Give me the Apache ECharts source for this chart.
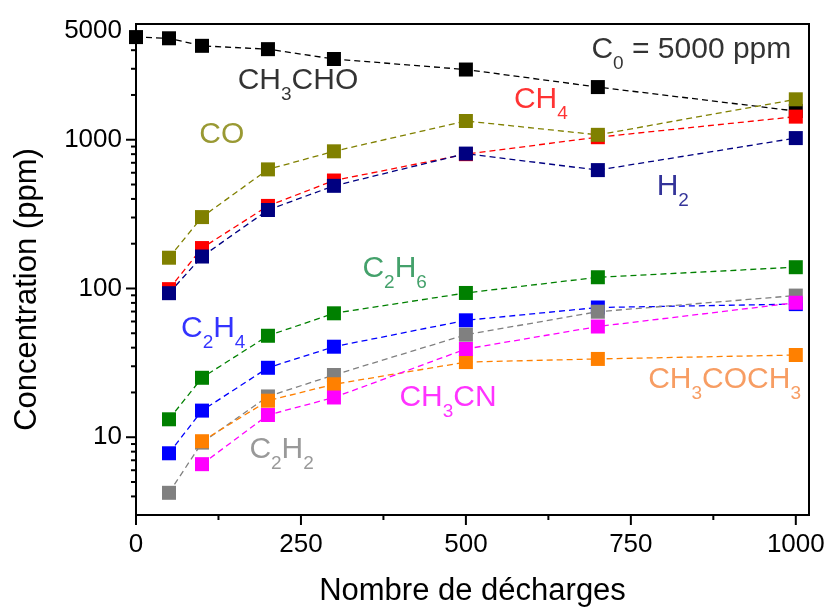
<!DOCTYPE html>
<html>
<head>
<meta charset="utf-8">
<script src="https://cdn.jsdelivr.net/npm/echarts@6/dist/echarts.min.js"></script>
<style>
  html, body { margin: 0; padding: 0; background: #fff; }
  #chart { width: 829px; height: 612px; }
</style>
</head>
<body>
<div id="chart"></div>
<script>
// number of discharges
var decharges = [0, 50, 100, 200, 300, 500, 700, 1000];

// concentrations (ppm), null = not measured
var ch3choData   = [4900, 4810, 4280, 4065, 3490, 2965, 2260, 1560];
var ch4Data      = [null, 99, 187, 359, 532, 800, 1040, 1430];
var h2Data       = [null, 93, 164, 337, 490, 807, 625, 1026];
var coData       = [null, 161, 302, 632, 836, 1337, 1079, 1870];
var c2h6Data     = [null, 13.2, 25.1, 48.1, 68.1, 93.3, 119, 139];
var c2h4Data     = [null, 7.8, 15.1, 29.3, 40.6, 61.1, 74.5, 78.5];
var c2h2Data     = [null, 4.23, 9.2, 18.8, 26.2, 48.9, 69.8, 89.6];
var ch3coch3Data = [null, null, 9.4, 17.6, 22.7, 32.0, 33.6, 35.7];
var ch3cnData    = [null, null, 6.59, 14.1, 18.5, 39.2, 55.5, 80.2];

// tick values
var xMajorTicks = [0, 250, 500, 750, 1000];
var xMinorTicks = [125, 375, 625, 875];
var yMajorTicks = [10, 100, 1000];
var yMinorTicks = [4, 5, 6, 7, 8, 9, 20, 30, 40, 50, 60, 70, 80, 90,
                   200, 300, 400, 500, 600, 700, 800, 900, 2000, 3000, 4000, 5000];
var yExtraLabels = [5000];

var FONT = 'Liberation Sans, Arial, sans-serif';

function pairs(arr) {
    var out = [];
    for (var i = 0; i < decharges.length; i++) {
        if (arr[i] != null) out.push([decharges[i], arr[i]]);
    }
    return out;
}

function lineSeries(name, arr, color) {
    return {
        name: name,
        type: 'line',
        data: pairs(arr),
        symbol: 'rect',
        symbolSize: 14,
        itemStyle: { color: color },
        lineStyle: { color: color, width: 1.3, type: [6, 4] },
        z: 3
    };
}

function note(text, x, y, color) {
    return {
        value: [x, y],
        label: {
            formatter: text,
            color: color,
            rich: {
                m: { fontSize: 30, fontFamily: FONT, color: color },
                s: { fontSize: 19, fontFamily: FONT, color: color, padding: [28, 0, 0, 0] }
            }
        }
    };
}

var dom = document.getElementById('chart');
var chart = echarts.init(dom, null, { renderer: 'canvas' });

var option = {
    animation: false,
    backgroundColor: '#fff',
    grid: {
        left: 136, right: 20, top: 24, bottom: 94,
        show: true, borderColor: '#000', borderWidth: 2
    },
    xAxis: {
        type: 'value',
        min: 0, max: 1020, interval: 250,
        name: 'Nombre de décharges',
        nameLocation: 'middle',
        nameGap: 61,
        nameTextStyle: { fontSize: 31, fontFamily: FONT, color: '#000' },
        axisLine: { show: false },
        axisTick: { show: false },
        splitLine: { show: false },
        axisLabel: {
            margin: 17, fontSize: 26, fontFamily: FONT, color: '#000',
            formatter: function (v) { return v % 250 === 0 ? String(v) : ''; }
        }
    },
    yAxis: {
        type: 'log',
        logBase: 10,
        min: 3, max: 6000,
        name: 'Concentration (ppm)',
        nameLocation: 'middle',
        nameGap: 93,
        nameTextStyle: { fontSize: 31, fontFamily: FONT, color: '#000', padding: [0, 40, 0, 0] },
        axisLine: { show: false },
        axisTick: { show: false },
        splitLine: { show: false },
        axisLabel: {
            margin: 14, fontSize: 26, fontFamily: FONT, color: '#000',
            formatter: function (v) {
                var e = Math.log10(v);
                return Math.abs(e - Math.round(e)) < 1e-6 ? String(Math.round(v)) : '';
            }
        }
    },
    series: [
        lineSeries('CH3CHO', ch3choData, '#000000'),
        lineSeries('CH4', ch4Data, '#ff0000'),
        lineSeries('H2', h2Data, '#000080'),
        lineSeries('CO', coData, '#808000'),
        lineSeries('C2H6', c2h6Data, '#008000'),
        lineSeries('C2H4', c2h4Data, '#0000ff'),
        lineSeries('C2H2', c2h2Data, '#808080'),
        lineSeries('CH3COCH3', ch3coch3Data, '#ff8000'),
        lineSeries('CH3CN', ch3cnData, '#ff00ff'),
        {
            // x ticks (outside, below the frame)
            type: 'custom',
            silent: true,
            clip: false,
            z: 5,
            data: xMajorTicks.map(function (v) { return [v, 10]; })
                .concat(xMinorTicks.map(function (v) { return [v, 5]; })),
            renderItem: function (params, api) {
                var p = api.coord([api.value(0), 3]);
                var len = api.value(1);
                return {
                    type: 'line',
                    shape: { x1: p[0], y1: p[1], x2: p[0], y2: p[1] + len },
                    style: { stroke: '#000', lineWidth: 2 }
                };
            }
        },
        {
            // y ticks (outside, left of the frame)
            type: 'custom',
            silent: true,
            clip: false,
            z: 5,
            data: yMajorTicks.map(function (v) { return [0, v, 10, 0]; })
                .concat(yMinorTicks.map(function (v) {
                    return [0, v, 5, yExtraLabels.indexOf(v) >= 0 ? 1 : 0];
                })),
            renderItem: function (params, api) {
                var v = api.value(1);
                var p = api.coord([0, v]);
                var len = api.value(2);
                var children = [{
                    type: 'line',
                    shape: { x1: p[0] - len, y1: p[1], x2: p[0], y2: p[1] },
                    style: { stroke: '#000', lineWidth: 2 }
                }];
                if (api.value(3) === 1) {
                    children.push({
                        type: 'text',
                        x: p[0] - 14, y: p[1] - 5,
                        style: {
                            text: String(v), fill: '#000',
                            font: '26px ' + FONT,
                            align: 'right', verticalAlign: 'middle'
                        }
                    });
                }
                return { type: 'group', children: children };
            }
        },
        {
            // annotations
            type: 'scatter',
            silent: true,
            symbolSize: 1,
            itemStyle: { color: 'transparent' },
            z: 6,
            label: {
                show: true,
                position: 'inside',
                align: 'center',
                verticalAlign: 'middle'
            },
            data: [
                note('{m|CH}{s|3}{m|CHO}', 245.5, 2506, '#000000'),
                note('{m|CO}', 130, 1079, '#808000'),
                note('{m|CH}{s|4}', 613.6, 1845, '#ff0000'),
                note('{m|H}{s|2}', 813.6, 480, '#000080'),
                note('{m|C}{s|2}{m|H}{s|6}', 392, 134.8, '#158a46'),
                note('{m|C}{s|2}{m|H}{s|4}', 117, 53.8, '#0000ff'),
                note('{m|C}{s|2}{m|H}{s|2}', 220.7, 8.26, '#808080'),
                note('{m|CH}{s|3}{m|CN}', 472.9, 18.4, '#ff00ff'),
                note('{m|CH}{s|3}{m|COCH}{s|3}', 892, 24.3, '#f5843c'),
                note('{m|C}{s|0}{m| = 5000 ppm}', 841.7, 4027, '#000000')
            ]
        }
    ]
};

chart.setOption(option);
</script>
</body>
</html>
